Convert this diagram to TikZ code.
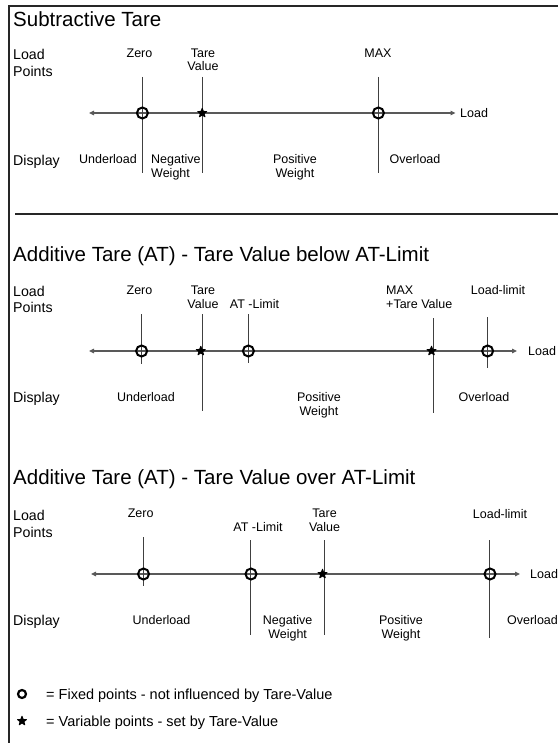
\documentclass[tikz,border=0pt]{standalone}
\usepackage{fontspec}
\setmainfont{Liberation Sans}
\usetikzlibrary{arrows.meta,shapes.geometric}
\begin{document}
\begin{tikzpicture}[x=1pt,y=-1pt,
 lbl/.style={inner sep=0pt,anchor=base,font=\fontsize{12.5}{14}\selectfont},
 lblw/.style={inner sep=0pt,anchor=base west,font=\fontsize{12.5}{14}\selectfont},
 side/.style={inner sep=0pt,anchor=base west,font=\fontsize{14.2}{16}\selectfont},
 ttl/.style={inner sep=0pt,anchor=base west,font=\fontsize{20.5}{24}\selectfont},
 legtxt/.style={inner sep=0pt,anchor=base west,font=\fontsize{14.5}{16}\selectfont},
 tick/.style={draw=black!75,line width=0.9pt},
 axis/.style={draw=black!65,line width=1.1pt,{Triangle[length=5pt,width=4.5pt]}-{Triangle[length=5pt,width=4.5pt]}},
 fixpt/.style={circle,draw=black,line width=2pt,minimum size=11pt,inner sep=0pt},
 varpt/.style={star,star points=5,star point ratio=2.4,fill=black,draw=black,line width=0.9pt,line join=round,minimum size=9.5pt,inner sep=0pt},
 frame/.style={draw=black!85,line width=1.2pt},
 sepline/.style={draw=black!85,line width=2pt}]
\useasboundingbox (0,0) rectangle (558,743);

% frame
\coordinate (ftr) at (558,6);
\coordinate (ftl) at (9,6);
\coordinate (fbl) at (9,743);
\draw[frame] (ftr) -- (ftl) -- (fbl);

% ================= Section 1 =================
\node[ttl] (t1) at (13,27) {Subtractive Tare};
\node[side] (load1) at (13,60) {Load};
\node[side] (points1) at (13,76.5) {Points};
\node[side] (disp1) at (13,166) {Display};

\node[lbl] (zero1) at (139.5,57.5) {Zero};
\node[lbl] (tare1a) at (203,57.5) {Tare};
\node[lbl] (tare1b) at (203,71) {Value};
\node[lbl] (max1) at (378,57.5) {MAX};

\coordinate (a1l) at (89,113);
\coordinate (a1r) at (455.5,113);
\draw[axis] (a1l) -- (a1r);
\node[lblw] (ld1) at (460,117.5) {Load};

\coordinate (z1t) at (142.4,77); \coordinate (z1b) at (142.4,173);
\coordinate (v1t) at (202.2,77); \coordinate (v1b) at (202.2,173);
\coordinate (m1t) at (378.4,77); \coordinate (m1b) at (378.4,173);
\draw[tick] (z1t) -- (z1b);
\draw[tick] (v1t) -- (v1b);
\draw[tick] (m1t) -- (m1b);
\node[fixpt] (pz1) at (142.4,113) {};
\node[varpt] (pv1) at (202.2,113) {};
\node[fixpt] (pm1) at (378.4,113) {};

\node[lbl] (ul1) at (108,163.5) {Underload};
\node[lblw] (neg1a) at (151,163.5) {Negative};
\node[lblw] (neg1b) at (151,177.5) {Weight};
\node[lbl] (pos1a) at (295,163.5) {Positive};
\node[lbl] (pos1b) at (295,177.5) {Weight};
\node[lbl] (ov1) at (415,163.5) {Overload};

% separator
\coordinate (sepl) at (15,214);
\coordinate (sepr) at (558,214);
\draw[sepline] (sepl) -- (sepr);

% ================= Section 2 =================
\node[ttl] (t2) at (13,261.5) {Additive Tare (AT) - Tare Value below AT-Limit};
\node[side] (load2) at (13,296.5) {Load};
\node[side] (points2) at (13,312.7) {Points};
\node[side] (disp2) at (13,402.5) {Display};

\node[lbl] (zero2) at (139.5,294.3) {Zero};
\node[lbl] (tare2a) at (203,294.3) {Tare};
\node[lbl] (tare2b) at (203,308.3) {Value};
\node[lbl] (atl2) at (254.5,308.3) {AT -Limit};
\node[lblw] (max2a) at (386,294.3) {MAX};
\node[lblw] (max2b) at (386,308.3) {+Tare Value};
\node[lbl] (ll2) at (498,294.3) {Load-limit};

\coordinate (a2l) at (89,351);
\coordinate (a2r) at (517,351);
\draw[axis] (a2l) -- (a2r);
\node[lblw] (ld2) at (528,355.5) {Load};

\coordinate (z2t) at (141.6,314); \coordinate (z2b) at (141.6,364);
\coordinate (v2t) at (202,314); \coordinate (v2b) at (202,411);
\coordinate (l2t) at (248.4,314); \coordinate (l2b) at (248.4,363);
\coordinate (m2t) at (433,318); \coordinate (m2b) at (433,413);
\coordinate (k2t) at (487.6,317); \coordinate (k2b) at (487.6,368);
\draw[tick] (z2t) -- (z2b);
\draw[tick] (v2t) -- (v2b);
\draw[tick] (l2t) -- (l2b);
\draw[tick] (m2t) -- (m2b);
\draw[tick] (k2t) -- (k2b);
\node[fixpt] (pz2) at (141.6,351) {};
\node[varpt] (pv2) at (200.8,351) {};
\node[fixpt] (pl2) at (248.4,351) {};
\node[varpt] (pm2) at (431.5,351) {};
\node[fixpt] (pk2) at (487.6,351) {};

\node[lbl] (ul2) at (146,401.7) {Underload};
\node[lbl] (pos2a) at (319,401.7) {Positive};
\node[lbl] (pos2b) at (319,415.5) {Weight};
\node[lbl] (ov2) at (484,401.7) {Overload};

% ================= Section 3 =================
\node[ttl] (t3) at (13,484) {Additive Tare (AT) - Tare Value over AT-Limit};
\node[side] (load3) at (13,520.7) {Load};
\node[side] (points3) at (13,537.3) {Points};
\node[side] (disp3) at (13,625) {Display};

\node[lbl] (zero3) at (140.6,517.7) {Zero};
\node[lbl] (atl3) at (258,531.7) {AT -Limit};
\node[lbl] (tare3a) at (324.6,517.7) {Tare};
\node[lbl] (tare3b) at (324.6,531.7) {Value};
\node[lbl] (ll3) at (500,518.5) {Load-limit};

\coordinate (a3l) at (91,574);
\coordinate (a3r) at (520,574);
\draw[axis] (a3l) -- (a3r);
\node[lblw] (ld3) at (530,578.5) {Load};

\coordinate (z3t) at (143,537); \coordinate (z3b) at (143,586);
\coordinate (l3t) at (250,540); \coordinate (l3b) at (250,635);
\coordinate (v3t) at (324,540); \coordinate (v3b) at (324,635);
\coordinate (k3t) at (489,540); \coordinate (k3b) at (489,638);
\draw[tick] (z3t) -- (z3b);
\draw[tick] (l3t) -- (l3b);
\draw[tick] (v3t) -- (v3b);
\draw[tick] (k3t) -- (k3b);
\node[fixpt] (pz3) at (143.5,574) {};
\node[fixpt] (pl3) at (251,574) {};
\node[varpt] (pv3) at (322.5,574) {};
\node[fixpt] (pk3) at (490,574) {};

\node[lbl] (ul3) at (161.5,624.3) {Underload};
\node[lbl] (neg3a) at (287.6,624.3) {Negative};
\node[lbl] (neg3b) at (287.6,638) {Weight};
\node[lbl] (pos3a) at (401,624.3) {Positive};
\node[lbl] (pos3b) at (401,638) {Weight};
\node[lbl] (ov3) at (532.5,624.3) {Overload};

% ================= Legend =================
\node[fixpt,minimum size=8pt,line width=2.2pt] (legc) at (22,694) {};
\node[legtxt] (legct) at (46,699) {= Fixed points - not influenced by Tare-Value};
\node[varpt] (legs) at (22,721) {};
\node[legtxt] (legst) at (46,726) {= Variable points - set by Tare-Value};
\end{tikzpicture}
\end{document}
